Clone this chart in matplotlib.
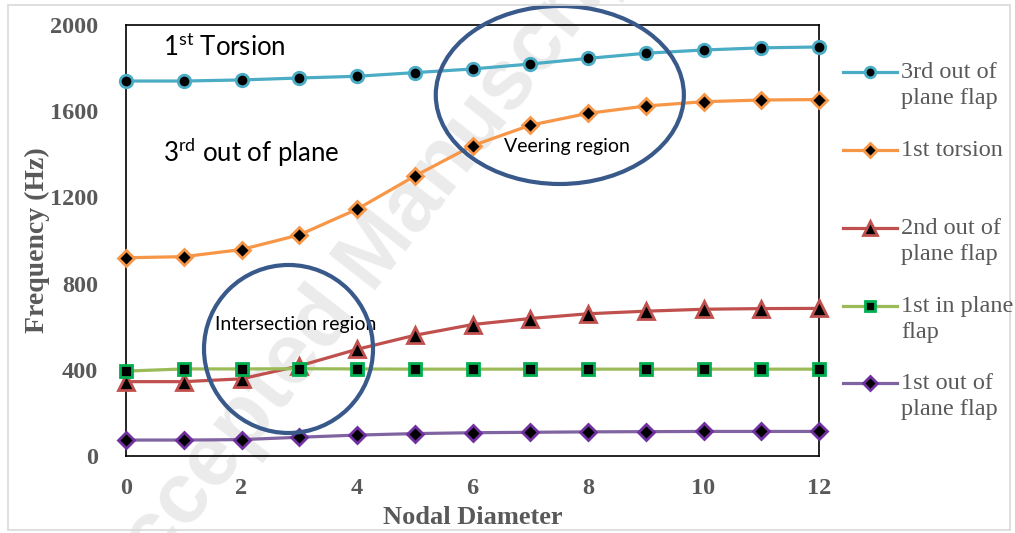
import numpy as np
import matplotlib
matplotlib.use("Agg")
import matplotlib.pyplot as plt
from matplotlib.patches import Ellipse, Rectangle
from matplotlib.lines import Line2D

plt.rcParams['mathtext.fontset'] = 'custom'
plt.rcParams['mathtext.rm'] = 'Lato'

# data
nodal_diameter = np.arange(0, 13)
third_oop_flap = [1740, 1740, 1745, 1754, 1762, 1779, 1796, 1819, 1845, 1869, 1884, 1894, 1898]
first_torsion = [920, 925, 958, 1026, 1145, 1299, 1440, 1535, 1590, 1624, 1644, 1652, 1654]
second_oop_flap = [345, 345, 358, 418, 495, 560, 610, 638, 660, 672, 681, 684, 685]
first_ip_flap = [394, 404, 404, 405, 404, 403, 403, 403, 403, 403, 403, 403, 403]
first_oop_flap = [74, 74, 76, 87, 97, 104, 108, 110, 112, 113, 114, 114, 114]

labels = ["3rd out of\nplane flap", "1st torsion", "2nd out of\nplane flap",
          "1st in plane\nflap", "1st out of\nplane flap"]
series = [third_oop_flap, first_torsion, second_oop_flap, first_ip_flap, first_oop_flap]
line_colors = ["#4BACC6", "#F79646", "#C0504D", "#9BBB59", "#8064A2"]
edge_colors = ["#4BACC6", "#F79646", "#C0504D", "#00B050", "#7030A0"]
markers = ["o", "D", "^", "s", "D"]
msizes = [9, 8.5, 12, 9, 8.5]

xticks = [0, 2, 4, 6, 8, 10, 12]
yticks = [0, 400, 800, 1200, 1600, 2000]

W, H = 1015, 533
fig = plt.figure(figsize=(W / 100, H / 100), dpi=100)
ax = fig.add_axes([126 / W, 1 - 456 / H, (819 - 126) / W, (456 - 25) / H])

# outer chart border
fig.add_artist(Rectangle((8 / W, 3 / H), (1010 - 8) / W, (528 - 3) / H,
                         transform=fig.transFigure, fill=False,
                         edgecolor="#d9d9d9", lw=1.2))

# watermark, kept underneath the plot
fig.text(370 / W, 1 - 262 / H, "Accepted Manuscript", rotation=52,
         fontsize=62, fontweight="bold", family="Liberation Sans",
         color="#ebebeb", ha="center", va="center", zorder=-1)

for y, lc, ec, m, ms in zip(series, line_colors, edge_colors, markers, msizes):
    ax.plot(nodal_diameter, y, color=lc, lw=2.3, marker=m, ms=ms,
            mfc="black", mec=ec, mew=2, clip_on=False, zorder=3)

ax.set_xlim(0, 12)
ax.set_ylim(0, 2000)
ax.set_xticks(xticks)
ax.set_yticks(yticks)
ax.tick_params(length=0, labelsize=17.5, labelcolor="#595959")
ax.tick_params(axis="x", pad=16)
ax.tick_params(axis="y", pad=20)
for lab in ax.get_xticklabels() + ax.get_yticklabels():
    lab.set_family("Liberation Serif")
    lab.set_fontweight("bold")
for sp in ax.spines.values():
    sp.set_color("black")
    sp.set_linewidth(1.2)
ax.patch.set_alpha(0)

ax.set_xlabel("Nodal Diameter", fontsize=19, fontweight="bold",
              family="Liberation Serif", color="#595959", labelpad=5)
ax.set_ylabel("Frequency (Hz)", fontsize=20, fontweight="bold",
              family="Liberation Serif", color="#595959", labelpad=0)

# annotations
ax.text(0.053, 0.949, r"1$^{\mathrm{st}}$ Torsion", transform=ax.transAxes,
        fontsize=18.5, family="Lato", va="center", ha="left")
ax.text(0.053, 0.705, r"3$^{\mathrm{rd}}$ out of plane", transform=ax.transAxes,
        fontsize=18.5, family="Lato", va="center", ha="left")
ax.text(0.636, 0.717, "Veering region", transform=ax.transAxes,
        fontsize=14, family="Lato", va="center", ha="center")
ax.text(0.2453, 0.304, "Intersection region", transform=ax.transAxes,
        fontsize=14, family="Lato", va="center", ha="center")
ax.add_patch(Ellipse((0.626, 0.8376), 0.358, 0.413, transform=ax.transAxes,
                     fill=False, edgecolor="#38598a", lw=3, clip_on=False, zorder=4))
ax.add_patch(Ellipse((0.2345, 0.2483), 0.2439, 0.3898, transform=ax.transAxes,
                     fill=False, edgecolor="#38598a", lw=3, clip_on=False, zorder=4))

# legend drawn by hand to keep Excel-like spacing
entry_y = [72, 150, 228, 306, 383]
for ey, lab, lc, ec, m, ms in zip(entry_y, labels, line_colors, edge_colors, markers, msizes):
    fy = 1 - ey / H
    fig.add_artist(Line2D([843 / W, 897 / W], [fy, fy], transform=fig.transFigure,
                          color=lc, lw=2.3))
    fig.add_artist(Line2D([870 / W], [fy], transform=fig.transFigure, marker=m,
                          ms=ms * 0.85, mfc="black", mec=ec, mew=2, lw=0))
    fig.text(901 / W, fy + 10 / H, lab, fontsize=17.5, family="Liberation Serif",
             color="#595959", va="top", ha="left", linespacing=1.3)

fig.savefig("out.png", dpi=100)
